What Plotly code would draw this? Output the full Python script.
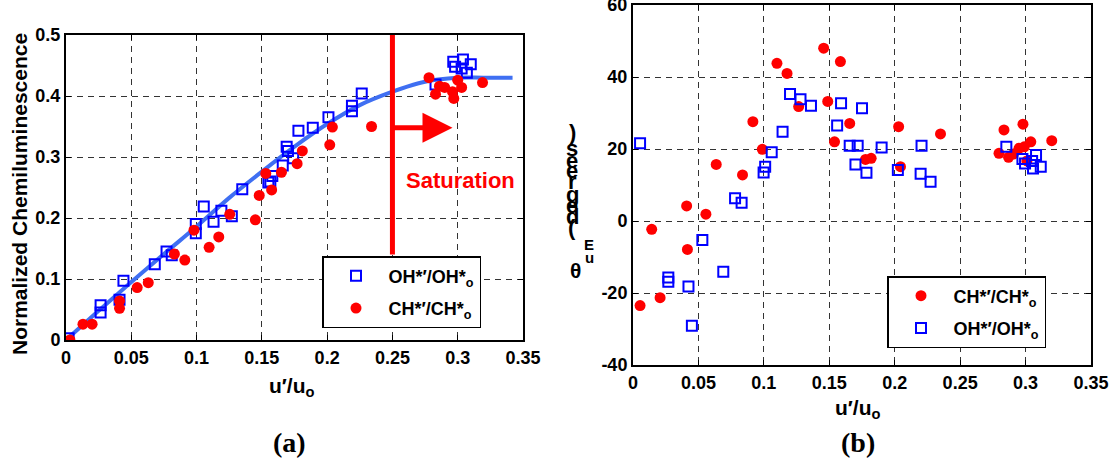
import plotly.graph_objects as go

# ---------------- data (panel a) ----------------
a_ch_x = [0.003, 0.013, 0.020, 0.041, 0.041, 0.0545, 0.063, 0.083, 0.091, 0.098, 0.1096, 0.117,
          0.1254, 0.145, 0.148, 0.1575, 0.153, 0.165, 0.177, 0.181, 0.202, 0.204, 0.234,
          0.278, 0.283, 0.286, 0.290, 0.296, 0.297, 0.300, 0.303, 0.319]
a_ch_y = [0.0, 0.026, 0.026, 0.052, 0.064, 0.086, 0.094, 0.141, 0.131, 0.180, 0.152, 0.169,
          0.206, 0.197, 0.237, 0.246, 0.273, 0.275, 0.289, 0.310, 0.320, 0.349, 0.350,
          0.430, 0.403, 0.416, 0.414, 0.407, 0.396, 0.426, 0.414, 0.422]

a_oh_x = [0.002, 0.0265, 0.0265, 0.041, 0.044, 0.068, 0.077, 0.081, 0.0994, 0.0994, 0.1055,
          0.113, 0.119, 0.127, 0.135, 0.1565, 0.155, 0.158, 0.166, 0.169, 0.170, 0.174, 0.178,
          0.189, 0.201, 0.219, 0.219, 0.2265, 0.283, 0.2966, 0.298, 0.304, 0.303, 0.307, 0.310]
a_oh_y = [0.003, 0.057, 0.045, 0.066, 0.097, 0.124, 0.145, 0.139, 0.190, 0.175, 0.219,
          0.194, 0.212, 0.203, 0.247, 0.260, 0.258, 0.269, 0.286, 0.317, 0.310, 0.298, 0.343,
          0.348, 0.365, 0.375, 0.384, 0.404, 0.419, 0.456, 0.448, 0.460, 0.445, 0.438, 0.452]

fit_x = [0.0, 0.025, 0.05, 0.075, 0.1, 0.125, 0.15, 0.175, 0.2, 0.225, 0.25, 0.27, 0.285, 0.3, 0.32, 0.342]
fit_y = [0.0, 0.048, 0.095, 0.141, 0.186, 0.233, 0.276, 0.317, 0.354, 0.385, 0.407, 0.421, 0.427, 0.430, 0.430, 0.430]

# ---------------- data (panel b) ----------------
b_ch_x = [0.0054, 0.0143, 0.0207, 0.041, 0.0416, 0.0557, 0.0636, 0.0837, 0.0916, 0.0988, 0.110,
          0.1177, 0.1266, 0.1457, 0.1488, 0.1585, 0.154, 0.1656, 0.1777, 0.182, 0.203, 0.2044,
          0.235, 0.2797, 0.2835, 0.287, 0.2907, 0.295, 0.298, 0.299, 0.304, 0.301, 0.320]
b_ch_y = [-23.5, -2.3, -21.3, 4.2, -7.9, 1.9, 15.7, 12.8, 27.6, 19.9, 43.8,
          41.0, 31.8, 48.0, 33.2, 44.3, 22.0, 27.1, 17.1, 17.4, 26.2, 15.1,
          24.2, 18.8, 25.3, 17.7, 18.6, 20.2, 26.9, 20.6, 22.0, 16.7, 22.3]

b_oh_x = [0.0054, 0.027, 0.027, 0.0424, 0.045, 0.053, 0.069, 0.078, 0.083, 0.0998, 0.101, 0.106,
          0.1143, 0.120, 0.128, 0.136, 0.156, 0.159, 0.1656, 0.1717, 0.170, 0.1784, 0.175,
          0.190, 0.2024, 0.2205, 0.2198, 0.2274, 0.2853, 0.2976, 0.2996, 0.305, 0.308, 0.3057, 0.3116]
b_oh_y = [21.6, -15.7, -16.9, -18.2, -29.1, -5.3, -14.1, 6.3, 5.1, 13.5, 15.1, 19.1,
          24.8, 35.3, 33.8, 32.0, 26.5, 32.7, 20.9, 20.9, 15.7, 13.4, 31.3,
          20.4, 14.2, 20.9, 13.1, 10.9, 20.6, 17.2, 16.0, 16.7, 18.3, 14.6, 15.1]

x_ticks = [0, 0.05, 0.1, 0.15, 0.2, 0.25, 0.3, 0.35]
x_ticktext = ["0", "0.05", "0.1", "0.15", "0.2", "0.25", "0.3", "0.35"]
ya_ticks = [0, 0.1, 0.2, 0.3, 0.4, 0.5]
ya_ticktext = ["0", "0.1", "0.2", "0.3", "0.4", "0.5"]
yb_ticks = [-40, -20, 0, 20, 40, 60]
yb_ticktext = ["-40", "-20", "0", "20", "40", "60"]

W, H = 1115, 465
def px(x):
    return x / W
def py(y):
    return 1 - y / H
def b(t):
    return "<b>" + t + "</b>"

RED = "#ff0000"
BLUE = "#0000ff"
FIT = "#3f6ff2"
FONT = "Liberation Sans"

fig = go.Figure()

# panel a
fig.add_trace(go.Scatter(x=fit_x, y=fit_y, mode="lines", line=dict(color=FIT, width=4, shape="spline"),
                         showlegend=False, xaxis="x", yaxis="y"))
fig.add_trace(go.Scatter(x=a_oh_x, y=a_oh_y, mode="markers", name=b("OH*′/OH*<sub>o</sub>"),
                         marker=dict(symbol="square-open", size=10, color=BLUE, line=dict(width=2)),
                         xaxis="x", yaxis="y", legend="legend", legendgroup="a1"))
fig.add_trace(go.Scatter(x=a_ch_x, y=a_ch_y, mode="markers", name=b("CH*′/CH*<sub>o</sub>"),
                         marker=dict(symbol="circle", size=11, color=RED),
                         xaxis="x", yaxis="y", legend="legend", legendgroup="a2"))

# panel b
fig.add_trace(go.Scatter(x=b_ch_x, y=b_ch_y, mode="markers", name=b("CH*′/CH*<sub>o</sub>"),
                         marker=dict(symbol="circle", size=11, color=RED),
                         xaxis="x2", yaxis="y2", legend="legend2", legendgroup="b1"))
fig.add_trace(go.Scatter(x=b_oh_x, y=b_oh_y, mode="markers", name=b("OH*′/OH*<sub>o</sub>"),
                         marker=dict(symbol="square-open", size=10, color=BLUE, line=dict(width=2)),
                         xaxis="x2", yaxis="y2", legend="legend2", legendgroup="b2"))

axis_common = dict(showgrid=True, gridcolor="#333", griddash="6px,5px", gridwidth=1,
                   showline=True, linecolor="black", linewidth=2, mirror="allticks",
                   ticks="inside", ticklen=5, tickcolor="black", zeroline=False, automargin=False,
                   ticklabeloverflow="allow",
                   tickfont=dict(family=FONT, size=18, color="black"))

legend_common = dict(xanchor="left", yanchor="top", bgcolor="white",
                     bordercolor="black", borderwidth=1.5,
                     font=dict(family=FONT, size=18, color="black"),
                     itemwidth=55, tracegroupgap=6, entrywidth=145, entrywidthmode="pixels")

fig.update_layout(
    width=W, height=H, margin=dict(l=0, r=0, t=0, b=0, autoexpand=False),
    paper_bgcolor="white", plot_bgcolor="white",
    font=dict(family=FONT, color="black"),
    xaxis=dict(domain=[px(66), px(523)], range=[0, 0.35], tickvals=x_ticks,
               ticktext=[b(t) for t in x_ticktext], anchor="y", **axis_common),
    yaxis=dict(domain=[py(340), py(35)], range=[0, 0.5], tickvals=ya_ticks,
               ticktext=[b(t) for t in ya_ticktext], anchor="x", **axis_common),
    xaxis2=dict(domain=[px(633), px(1091)], range=[0, 0.35], tickvals=x_ticks,
                ticktext=[b(t) for t in x_ticktext], anchor="y2", **axis_common),
    yaxis2=dict(domain=[py(365), py(5)], range=[-40, 60], tickvals=yb_ticks,
                ticktext=[b(t) for t in yb_ticktext], anchor="x2", **axis_common),
    legend=dict(x=px(322), y=py(256), **legend_common),
    legend2=dict(x=px(887), y=py(276), **legend_common),
)

# saturation line and arrow
fig.add_shape(type="line", x0=0.25, x1=0.25, y0=0.14, y1=0.5, xref="x", yref="y",
              line=dict(color=RED, width=5))
fig.add_annotation(x=0.296, y=0.348, ax=0.25, ay=0.348, xref="x", yref="y", axref="x", ayref="y",
                   showarrow=True, arrowhead=2, arrowsize=1.2, arrowwidth=5, arrowcolor=RED, text="")
fig.add_annotation(x=0.302, y=0.262, xref="x", yref="y", text=b("Saturation"), showarrow=False,
                   xanchor="center", yanchor="middle",
                   font=dict(family=FONT, size=22, color=RED))


def label(xp, yp, text, size, family=FONT, angle=0):
    fig.add_annotation(x=px(xp), y=py(yp), xref="paper", yref="paper", text=text, showarrow=False,
                       xanchor="center", yanchor="middle", textangle=angle,
                       font=dict(family=family, size=size, color="black"))


# axis titles
label(19, 194, b("Normalized Chemiluminescence"), 21, angle=-90)
label(292, 387, b("u′/u<sub>o</sub>"), 21)
label(858, 409, b("u′/u<sub>o</sub>"), 21)
label(290, 442, b("(a)"), 28, family="Liberation Serif")
label(858, 442, b("(b)"), 28, family="Liberation Serif")

# right y-axis title: stacked glyphs as in the original
title_chars = [")", "s", "e", "e", "r", "g", "e", "d", "("]
title_ys = [132, 148, 160, 171, 182, 194, 205, 216, 227]
for ch, yy in zip(title_chars, title_ys):
    label(572, yy, b(ch), 22)
label(589, 244, b("E"), 15)
label(589, 257, b("u"), 15)
label(575, 270, b("θ"), 21)

fig.write_html("out.html")
